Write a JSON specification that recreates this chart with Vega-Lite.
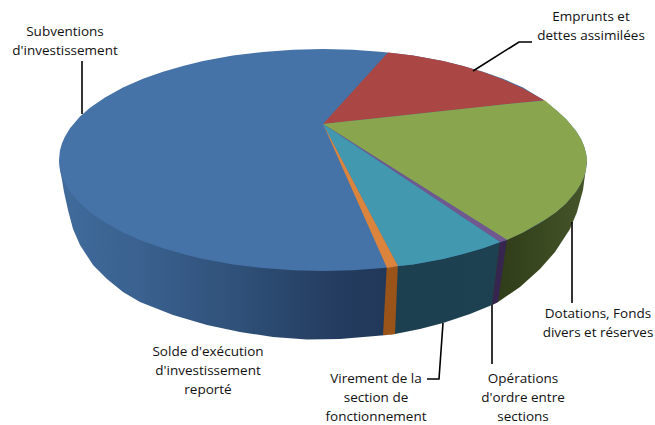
{"$schema":"https://vega.github.io/schema/vega-lite/v6.json","width":655,"height":425,"padding":0,"autosize":{"type":"none"},"background":"white","view":{"stroke":null},
"datasets":{
"walls":[
{"s":"blue","x":59,"y":160,"y2":160},{"s":"blue","x":60,"y":160,"y2":170},{"s":"blue","x":62,"y":160,"y2":180},{"s":"blue","x":64,"y":160,"y2":192},{"s":"blue","x":68,"y":160,"y2":210},{"s":"blue","x":73,"y":160,"y2":229},{"s":"blue","x":80,"y":160,"y2":245},{"s":"blue","x":93,"y":160,"y2":265},{"s":"blue","x":107,"y":160,"y2":279},{"s":"blue","x":123,"y":160,"y2":292},{"s":"blue","x":140,"y":160,"y2":302},{"s":"blue","x":173,"y":160,"y2":315},{"s":"blue","x":207,"y":160,"y2":325},{"s":"blue","x":240,"y":160,"y2":332},{"s":"blue","x":273,"y":160,"y2":337},{"s":"blue","x":307,"y":160,"y2":339.5},{"s":"blue","x":340,"y":160,"y2":339},{"s":"blue","x":387,"y":160,"y2":335},
{"s":"green","x":492,"y":160,"y2":305},{"s":"green","x":498,"y":160,"y2":302},{"s":"green","x":520,"y":160,"y2":287},{"s":"green","x":540,"y":160,"y2":269},{"s":"green","x":555,"y":160,"y2":252},{"s":"green","x":570,"y":160,"y2":229},{"s":"green","x":577,"y":160,"y2":212},{"s":"green","x":583,"y":160,"y2":190},{"s":"green","x":587,"y":160,"y2":160},
{"s":"teal","x":390,"y":240,"y2":334.5},{"s":"teal","x":395,"y":240,"y2":334},{"s":"teal","x":420,"y":240,"y2":329},{"s":"teal","x":443,"y":240,"y2":323},{"s":"teal","x":470,"y":240,"y2":314},{"s":"teal","x":492,"y":240,"y2":305},{"s":"teal","x":500,"y":240,"y2":240},
{"s":"purple","x":492,"y":305,"y2":305},{"s":"purple","x":498,"y":257.8,"y2":302},{"s":"purple","x":500,"y":242,"y2":288},{"s":"purple","x":507,"y":240,"y2":240},
{"s":"orange","x":383,"y":335,"y2":335},{"s":"orange","x":387,"y":262,"y2":335},{"s":"orange","x":395,"y":262,"y2":334},{"s":"orange","x":398,"y":262,"y2":262}
],
"faces":[
{"s":"blue","x":59,"y":160,"y2":160},{"s":"blue","x":60,"y":150.3,"y2":169.7},{"s":"blue","x":62,"y":143.3,"y2":176.7},{"s":"blue","x":65,"y":136.5,"y2":183.5},{"s":"blue","x":70,"y":128.3,"y2":191.7},{"s":"blue","x":80,"y":116.6,"y2":203.4},{"s":"blue","x":90,"y":107.8,"y2":212.2},{"s":"blue","x":105,"y":97.4,"y2":222.6},{"s":"blue","x":123,"y":87.5,"y2":232.5},{"s":"blue","x":143,"y":78.8,"y2":241.2},{"s":"blue","x":163,"y":71.7,"y2":248.3},{"s":"blue","x":183,"y":65.9,"y2":254.1},{"s":"blue","x":203,"y":61.1,"y2":258.9},{"s":"blue","x":233,"y":55.6,"y2":264.4},{"s":"blue","x":263,"y":51.9,"y2":268.1},{"s":"blue","x":293,"y":49.7,"y2":270.3},{"s":"blue","x":323,"y":49,"y2":271},{"s":"blue","x":353,"y":49.7,"y2":270.3},{"s":"blue","x":383,"y":51.9,"y2":268.1},{"s":"blue","x":413,"y":55.6,"y2":264.4},{"s":"blue","x":443,"y":61.1,"y2":258.9},{"s":"blue","x":463,"y":65.9,"y2":254.1},{"s":"blue","x":483,"y":71.7,"y2":248.3},{"s":"blue","x":503,"y":78.8,"y2":241.2},{"s":"blue","x":523,"y":87.5,"y2":232.5},{"s":"blue","x":541,"y":98.5,"y2":222.6},{"s":"blue","x":556,"y":110,"y2":212.2},{"s":"blue","x":566,"y":119,"y2":203.4},{"s":"blue","x":576,"y":131,"y2":191.7},{"s":"blue","x":581,"y":139,"y2":183.5},{"s":"blue","x":584,"y":146,"y2":176.7},{"s":"blue","x":586,"y":153,"y2":169.7},{"s":"blue","x":587,"y":160,"y2":160},
{"s":"red","x":323,"y":124,"y2":124},{"s":"red","x":388,"y":52.5,"y2":117},{"s":"red","x":413,"y":55.6,"y2":114.3},{"s":"red","x":443,"y":61.1,"y2":111},{"s":"red","x":463,"y":66,"y2":108.9},{"s":"red","x":483,"y":72,"y2":106.7},{"s":"red","x":503,"y":79.5,"y2":104.5},{"s":"red","x":523,"y":88.5,"y2":102.4},{"s":"red","x":541,"y":98.5,"y2":100.4},{"s":"red","x":545,"y":100.5,"y2":100.5},
{"s":"green","x":323,"y":124,"y2":124},{"s":"green","x":343,"y":121.8,"y2":136.6},{"s":"green","x":388,"y":117,"y2":165},{"s":"green","x":443,"y":111,"y2":199.6},{"s":"green","x":503,"y":104.5,"y2":237.5},{"s":"green","x":507,"y":104,"y2":240},{"s":"green","x":523,"y":102.4,"y2":232.5},{"s":"green","x":545,"y":100.5,"y2":219.7},{"s":"green","x":556,"y":110,"y2":212.2},{"s":"green","x":566,"y":119,"y2":203.4},{"s":"green","x":576,"y":131,"y2":191.7},{"s":"green","x":581,"y":139,"y2":183.5},{"s":"green","x":584,"y":146,"y2":176.7},{"s":"green","x":586,"y":153,"y2":169.7},{"s":"green","x":587,"y":160,"y2":160},
{"s":"purple","x":323,"y":124,"y2":124},{"s":"purple","x":343,"y":136.6,"y2":137.3},{"s":"purple","x":403,"y":174.4,"y2":177.3},{"s":"purple","x":463,"y":212.2,"y2":217.3},{"s":"purple","x":500,"y":235.5,"y2":242},{"s":"purple","x":507,"y":240,"y2":240},
{"s":"teal","x":323,"y":124,"y2":124},{"s":"teal","x":398,"y":174,"y2":266},{"s":"teal","x":413,"y":184,"y2":264.4},{"s":"teal","x":443,"y":204,"y2":258.9},{"s":"teal","x":463,"y":217.4,"y2":254.1},{"s":"teal","x":483,"y":230.7,"y2":248.3},{"s":"teal","x":500,"y":242,"y2":242},
{"s":"orange","x":323,"y":124,"y2":124},{"s":"orange","x":387,"y":245.2,"y2":268},{"s":"orange","x":398,"y":266,"y2":266}
],
"leaders":[
{"k":"a","o":1,"x":82,"y":61},{"k":"a","o":2,"x":82,"y":114},
{"k":"b","o":1,"x":532,"y":42},{"k":"b","o":2,"x":519,"y":42},{"k":"b","o":3,"x":473,"y":71},
{"k":"c","o":1,"x":572,"y":222},{"k":"c","o":2,"x":572,"y":303},
{"k":"d","o":1,"x":492,"y":305},{"k":"d","o":2,"x":492,"y":364},
{"k":"e","o":1,"x":443,"y":323},{"k":"e","o":2,"x":439,"y":379},{"k":"e","o":3,"x":427,"y":379}
],
"labels":[
{"t":"Subventions\nd'investissement","x":65,"y":32},
{"t":"Emprunts et\ndettes assimilées","x":591,"y":17},
{"t":"Solde d'exécution\nd'investissement\nreporté","x":208,"y":352},
{"t":"Virement de la\nsection de\nfonctionnement","x":376,"y":379},
{"t":"Opérations\nd'ordre entre\nsections","x":523,"y":379},
{"t":"Dotations, Fonds\ndivers et réserves","x":598,"y":314}
]},
"encoding":{
"x":{"field":"x","type":"quantitative","scale":{"domain":[0,655],"nice":false,"zero":false},"axis":null},
"y":{"field":"y","type":"quantitative","stack":null,"scale":{"domain":[425,0],"nice":false,"zero":false},"axis":null}
},
"layer":[
{"data":{"name":"walls"},"transform":[{"filter":"datum.s==='blue'"}],"mark":{"type":"area","color":{"gradient":"linear","x1":0,"x2":1,"y1":0,"y2":0,"stops":[{"offset":0,"color":"#406b9b"},{"offset":0.25,"color":"#3a618f"},{"offset":0.55,"color":"#2f5078"},{"offset":0.85,"color":"#243c5f"},{"offset":1,"color":"#21385a"}]}},"encoding":{"y2":{"field":"y2"}}},
{"data":{"name":"walls"},"transform":[{"filter":"datum.s==='green'"}],"mark":{"type":"area","color":{"gradient":"linear","x1":0,"x2":1,"y1":0,"y2":0,"stops":[{"offset":0,"color":"#2e3b17"},{"offset":1,"color":"#46552a"}]}},"encoding":{"y2":{"field":"y2"}}},
{"data":{"name":"walls"},"transform":[{"filter":"datum.s==='teal'"}],"mark":{"type":"area","color":{"gradient":"linear","x1":0,"x2":1,"y1":0,"y2":0,"stops":[{"offset":0,"color":"#1c404f"},{"offset":1,"color":"#1d4150"}]}},"encoding":{"y2":{"field":"y2"}}},
{"data":{"name":"walls"},"transform":[{"filter":"datum.s==='purple'"}],"mark":{"type":"area","color":"#36264f"},"encoding":{"y2":{"field":"y2"}}},
{"data":{"name":"walls"},"transform":[{"filter":"datum.s==='orange'"}],"mark":{"type":"area","color":"#9a5319"},"encoding":{"y2":{"field":"y2"}}},
{"data":{"name":"faces"},"transform":[{"filter":"datum.s==='blue'"}],"mark":{"type":"area","color":"#4572a7"},"encoding":{"y2":{"field":"y2"}}},
{"data":{"name":"faces"},"transform":[{"filter":"datum.s==='red'"}],"mark":{"type":"area","color":"#aa4643"},"encoding":{"y2":{"field":"y2"}}},
{"data":{"name":"faces"},"transform":[{"filter":"datum.s==='green'"}],"mark":{"type":"area","color":"#89a54e"},"encoding":{"y2":{"field":"y2"}}},
{"data":{"name":"faces"},"transform":[{"filter":"datum.s==='purple'"}],"mark":{"type":"area","color":"#71588f"},"encoding":{"y2":{"field":"y2"}}},
{"data":{"name":"faces"},"transform":[{"filter":"datum.s==='teal'"}],"mark":{"type":"area","color":"#4198af"},"encoding":{"y2":{"field":"y2"}}},
{"data":{"name":"faces"},"transform":[{"filter":"datum.s==='orange'"}],"mark":{"type":"area","color":"#db843d"},"encoding":{"y2":{"field":"y2"}}},
{"data":{"name":"leaders"},"mark":{"type":"line","color":"#000000","strokeWidth":1.6},"encoding":{"detail":{"field":"k"},"order":{"field":"o"}}},
{"data":{"name":"labels"},"mark":{"type":"text","font":"Open Sans","fontSize":13.5,"lineBreak":"\n","lineHeight":19,"align":"center","baseline":"middle","color":"#111111"},"encoding":{"text":{"field":"t"}}}
]}
